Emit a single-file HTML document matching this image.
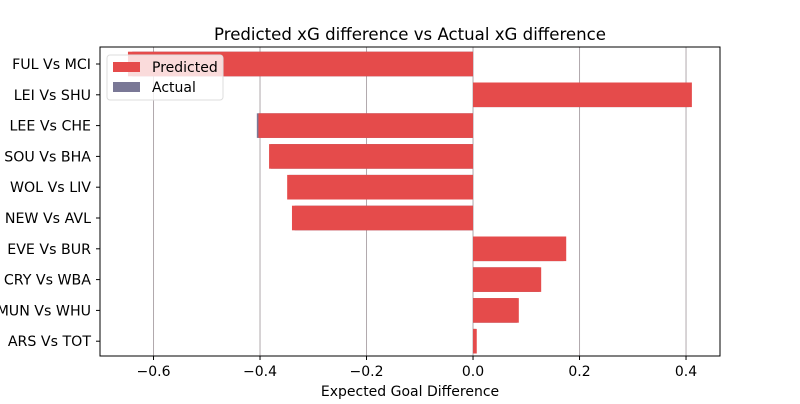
<!DOCTYPE html>
<html><head><meta charset="utf-8"><style>
body{margin:0;background:#fff;font-family:"DejaVu Sans","Liberation Sans",sans-serif;}
</style></head><body>
<svg id="chart" width="800" height="400" xmlns="http://www.w3.org/2000/svg" font-family="DejaVu Sans, Liberation Sans, sans-serif">
<rect width="800" height="400" fill="#fff"/>
<text x="410" y="40" text-anchor="middle" font-size="16.6">Predicted xG difference vs Actual xG difference</text>
<g id="grid"></g>
<g id="bars"></g>
<g id="axes"></g>
<text x="410" y="396" text-anchor="middle" font-size="14">Expected Goal Difference</text>
<g>
<rect x="107" y="55" width="116" height="45" rx="3" fill="#fff" fill-opacity="0.8" stroke="#ddd"/>
<rect x="113" y="62" width="27" height="10" fill="#e54b4b"/>
<text x="152" y="72" font-size="14">Predicted</text>
<rect x="113" y="82" width="27" height="10" fill="#7a7896"/>
<text x="152" y="92" font-size="14">Actual</text>
</g>
</svg>
<script>
const categories=["FUL Vs MCI","LEI Vs SHU","LEE Vs CHE","SOU Vs BHA","WOL Vs LIV","NEW Vs AVL","EVE Vs BUR","CRY Vs WBA","MUN Vs WHU","ARS Vs TOT"];
const predicted=[-0.648,0.411,-0.403,-0.383,-0.349,-0.340,0.175,0.128,0.086,0.007];
const actual=[-0.640,0.405,-0.406,-0.380,-0.345,-0.335,0.170,0.125,0.083,0.005];
const xTicks=[-0.6,-0.4,-0.2,0.0,0.2,0.4];
const xTickLabels=["\u22120.6","\u22120.4","\u22120.2","0.0","0.2","0.4"];
const NS="http://www.w3.org/2000/svg";
const L=100,R=720,T=47,B=356,xmin=-0.7005,xmax=0.4638;
function xs(v){return L+(v-xmin)/(xmax-xmin)*(R-L);}
function yc(i){return T+17+i*30.8;}
function mk(tag,attrs,parent){const e=document.createElementNS(NS,tag);for(const k in attrs)e.setAttribute(k,attrs[k]);parent.appendChild(e);return e;}
const grid=document.getElementById('grid'),bars=document.getElementById('bars'),axes=document.getElementById('axes');
xTicks.forEach((t,i)=>{
  const g=mk('line',{x1:xs(t),x2:xs(t),y1:T,y2:B,stroke:'#b0a8ac','stroke-width':1},grid);
  
  
  const tk=mk('line',{x1:xs(t),x2:xs(t),y1:B,y2:B+4,stroke:'#000'},axes);
  
  
  const tl=mk('text',{x:xs(t),y:B+20,'text-anchor':'middle','font-size':14},axes);
  tl.textContent=xTickLabels[i];
  
  
});
const bh=24.6;
categories.forEach((c,i)=>{
  const y=yc(i);
  const a=actual[i];
  const ra=mk('rect',{x:Math.min(xs(0),xs(a)),y:y-bh/2,width:Math.abs(xs(a)-xs(0)),height:bh,fill:'#7a7896'},bars);
  
  
  const p=predicted[i];
  const rp=mk('rect',{x:Math.min(xs(0),xs(p)),y:y-bh/2,width:Math.abs(xs(p)-xs(0)),height:bh,fill:'#e54b4b'},bars);
  
  
  const tk=mk('line',{x1:L-4,x2:L,y1:y,y2:y,stroke:'#000'},axes);
  
  
  const tl=mk('text',{x:L-9,y:y+5,'text-anchor':'end','font-size':14.2},axes);
  tl.textContent=c;
  
  
});
const fr=mk('rect',{x:L,y:T,width:R-L,height:B-T,fill:'none',stroke:'#000','stroke-width':1},axes);


</script>
</body></html>
